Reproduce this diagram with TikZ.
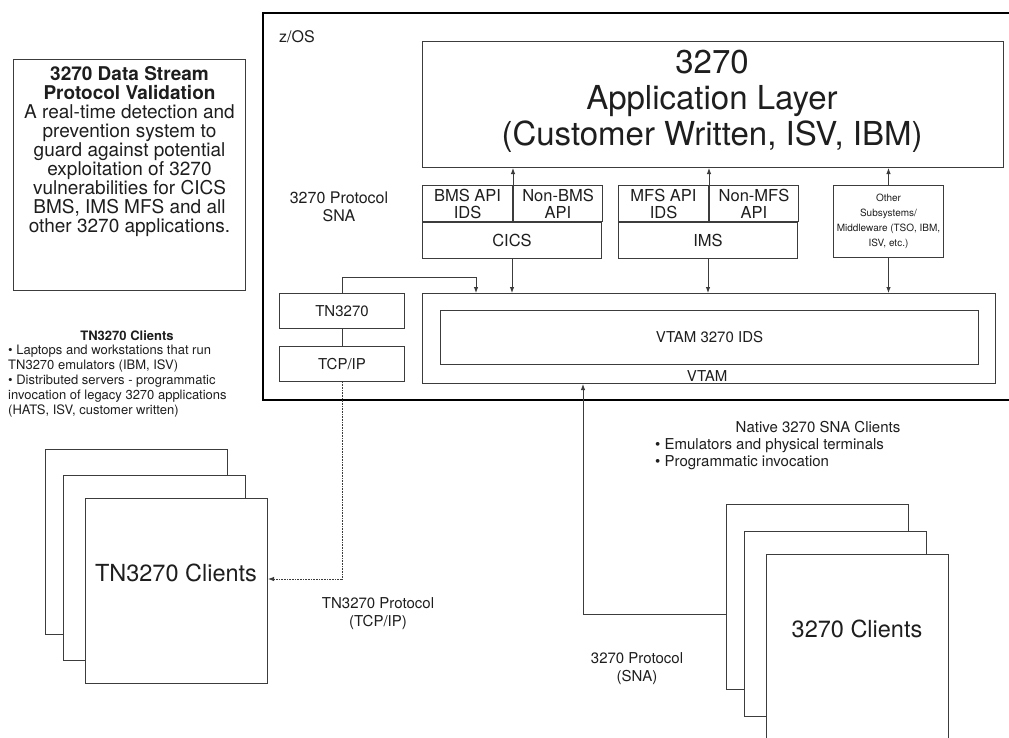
\documentclass[tikz,border=0pt]{standalone}
\usepackage{fontspec}
\setmainfont{TeX Gyre Heros}
\usetikzlibrary{positioning, arrows.meta}
\definecolor{linegray}{HTML}{3C3C3C}
\definecolor{textgray}{HTML}{1E1E1E}
\newcommand{\fsz}[2]{\fontsize{#1}{#2}\selectfont}

\begin{document}
\begin{tikzpicture}[x=1pt, y=-1pt, >={Latex[length=6pt,width=4.5pt]},
  every node/.style={text=textgray},
  box/.style={draw=linegray, line width=1pt, fill=white, anchor=north west, inner sep=0pt, align=center},
  card/.style={box, minimum width=182, minimum height=185},
  txt/.style={inner sep=0pt, align=center},
  link/.style={draw=linegray, line width=0.9pt},
  dots/.style={dash pattern=on 0.8pt off 0.8pt}]
  \useasboundingbox (0,0) rectangle (1009,737);

  % z/OS frame
  \node[draw=black, line width=2pt, anchor=north west, inner sep=0pt,
        minimum width=750, minimum height=387] (zos) at (262,12) {};
  \node[txt, anchor=west, font=\fsz{16}{18}] (zoslbl) at (279,37) {z/OS};

  \node[box, minimum width=581, minimum height=126] (app) at (422,41) {};
  \node[txt, font=\fsz{33}{36}] (applbl) at (712,101) {3270\\Application Layer\\(Customer Written, ISV, IBM)};
  \node[txt, font=\fsz{16}{18}] (snalbl) at (339,207) {3270 Protocol\\SNA};

  % CICS
  \node[box, minimum width=90, minimum height=36, font=\fsz{16.5}{17}] (bmsids) at (422,185) {BMS API\\IDS};
  \node[box, minimum width=89, minimum height=36, font=\fsz{16.5}{17}] (nonbms) at (bmsids.north east) {Non-BMS\\API};
  \node[box, minimum width=179, minimum height=36, font=\fsz{16.5}{18}] (cics) at (bmsids.south west) {CICS};

  % IMS
  \node[box, minimum width=90, minimum height=36, font=\fsz{16.5}{17}] (mfsids) at (618,185) {MFS API\\IDS};
  \node[box, minimum width=89, minimum height=36, font=\fsz{16.5}{17}] (nonmfs) at (mfsids.north east) {Non-MFS\\API};
  \node[box, minimum width=179, minimum height=36, font=\fsz{16.5}{18}] (ims) at (mfsids.south west) {IMS};

  \node[box, minimum width=110, minimum height=72, font=\fsz{10}{15}] (other) at (833,185)
    {Other\\Subsystems/\\Middleware (TSO, IBM,\\ISV, etc.)};

  % VTAM
  \node[box, minimum width=573, minimum height=90] (vtam) at (422,293) {};
  \node[box, minimum width=538, minimum height=54, font=\fsz{15}{18}] (vtamids) at (440,310) {VTAM 3270 IDS};
  \node[txt, font=\fsz{15}{18}] (vtamlbl) at (707,376) {VTAM};

  \node[box, minimum width=125, minimum height=35, font=\fsz{15}{18}] (tn) at (279,293) {TN3270};
  \node[box, minimum width=125, minimum height=35, font=\fsz{15}{18}] (tcpip) at (279,346) {TCP/IP};

  % left notes
  \node[box, minimum width=232, minimum height=231] (title) at (13,59) {};
  \node[txt, anchor=north, font=\fsz{19}{19}] (titletxt) at ([yshift=-7pt]title.north)
    {\textbf{3270 Data Stream}\\\textbf{Protocol Validation}\\A real-time detection and\\prevention system to\\guard against potential\\exploitation of 3270\\vulnerabilities for CICS\\BMS, IMS MFS and all\\other 3270 applications.};

  \node[txt, anchor=north, font=\fsz{13}{15}] (tnhead) at (127,331) {\textbf{TN3270 Clients}};
  \node[txt, anchor=north west, align=left, font=\fsz{13}{15}] (tnlist) at (8,345)
    {\textbullet\ Laptops and  workstations that run\\TN3270 emulators (IBM, ISV)\\\textbullet\ Distributed servers - programmatic\\invocation of legacy 3270 applications\\(HATS, ISV, customer written)};

  % client stacks
  \foreach \i/\cx/\cy in {1/45/449, 2/63/475, 3/85/498}
    \node[card] (tncard\i) at (\cx,\cy) {};
  \node[txt, font=\fsz{23.5}{26}] (tncardlbl) at (176,573) {TN3270 Clients};

  \foreach \i/\cx/\cy in {1/726/504, 2/744/531, 3/766/554}
    \node[card] (snacard\i) at (\cx,\cy) {};
  \node[txt, font=\fsz{23.5}{26}] (snacardlbl) at (857,629) {3270 Clients};

  \node[txt, font=\fsz{15}{18}] (tnproto) at (378,614) {TN3270 Protocol\\(TCP/IP)};
  \node[txt, font=\fsz{15}{18}] (snaproto) at (637,669) {3270 Protocol\\(SNA)};
  \node[txt, anchor=north, font=\fsz{15}{17}] (nativehead) at (818,421) {Native 3270 SNA Clients};
  \node[txt, anchor=north west, align=left, font=\fsz{15}{17}] (nativelist) at (655,438)
    {\textbullet\ Emulators and physical terminals\\\textbullet\ Programmatic invocation};

  % connectors
  \draw[link, ->] (bmsids.north east) -- (bmsids.north east |- app.south);
  \draw[link, ->] (mfsids.north east) -- (mfsids.north east |- app.south);
  \draw[link, ->] (other.north) -- (other.north |- app.south);
  \draw[link, ->] (cics.south) -- (cics.south |- vtam.north);
  \draw[link, ->] (ims.south) -- (ims.south |- vtam.north);
  \draw[link, ->] (other.south) -- (other.south |- vtam.north);
  \draw[link] (tn.south) -- (tcpip.north);
  \draw[link, ->] (tn.north) -- ++(0,-16) -| ([xshift=54pt]vtam.north west);
  \draw[link, dots, ->] (tcpip.south) |- ([yshift=12pt]tncard3.east);
  \draw[link, ->] ([yshift=-17.5pt]snacard1.west) -| ([xshift=161pt]vtam.south west);
\end{tikzpicture}
\end{document}
